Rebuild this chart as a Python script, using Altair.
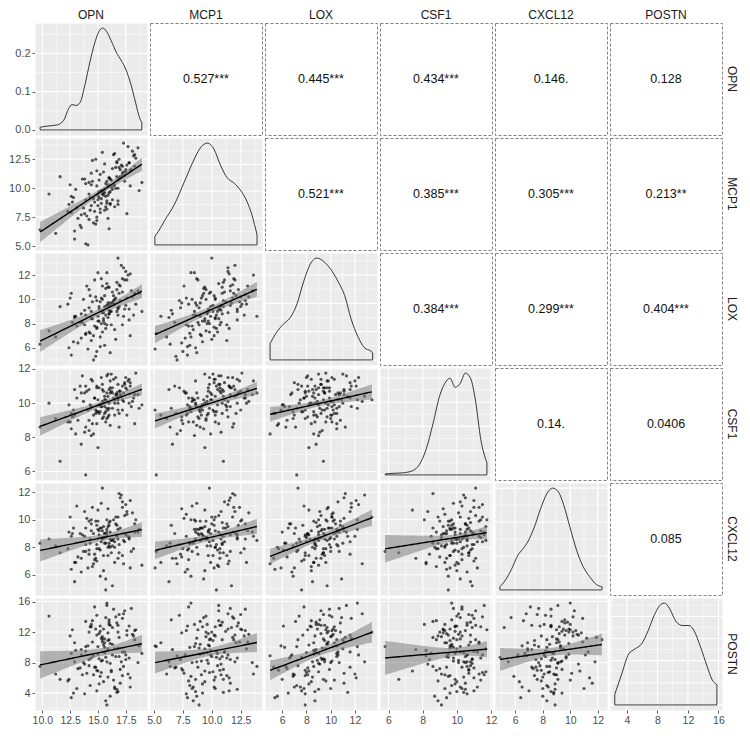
import numpy as np
import pandas as pd
import altair as alt

FONT = "Liberation Sans"
VARS = ["OPN", "MCP1", "LOX", "CSF1", "CXCL12", "POSTN"]

OPN = [9.8, 12.6, 13.9, 12.4, 14.6, 11.2, 13.1, 14.9, 12.8,
       12.7, 14.2, 10.6, 13.5, 15.2, 12.5, 13.8, 12.9, 14.4,
       14.3, 15.6, 13.2, 14.9, 16.1, 12.9, 14.6, 15.2, 13.8, 16.5, 14.1, 15.0, 13.5, 15.8, 14.4, 12.3, 15.4, 14.8, 16.8, 13.9,
       15.1, 13.7, 14.5, 16.3, 14.0, 15.5, 12.6, 14.7, 15.9, 13.4, 14.2, 16.7, 15.3, 13.0, 14.9, 15.7, 14.3, 11.6, 15.0, 16.0,
       15.9, 16.8, 14.9, 15.4, 17.6, 16.2, 15.1, 14.5, 16.6, 15.7, 17.2, 15.3, 16.0, 14.2, 15.5, 16.9, 15.8, 17.9, 15.0, 16.4, 13.6, 15.6, 16.1,
       15.2, 16.3, 17.4, 15.6, 14.7, 16.0, 15.4, 17.0, 14.4, 16.5, 15.8, 15.1, 18.3, 15.7, 16.2, 14.8, 15.5, 16.7, 15.9, 13.9, 17.3, 15.3, 16.1,
       17.5, 16.4, 18.2, 17.0, 15.9, 17.8, 16.8, 18.6, 17.2, 16.1, 17.6, 18.95, 16.6, 17.3, 15.6, 17.9, 16.9, 18.4,
       16.7, 17.4, 18.1, 15.8, 17.1, 16.3, 18.7, 17.7, 16.9, 16.0, 17.5, 18.3, 16.5, 17.2, 15.4, 17.8, 16.8, 18.0]
MCP1 = [6.4, 7.9, 5.2, 8.6, 7.0, 6.1, 8.3, 7.5, 9.2,
        8.8, 7.3, 9.5, 6.6, 8.2, 10.3, 7.8, 5.6, 8.5,
        8.1, 9.6, 7.4, 10.2, 8.7, 6.3, 9.1, 7.9, 10.8, 8.4, 5.1, 9.4, 7.7, 8.9, 11.3, 8.0, 9.8, 6.9, 8.6, 9.0,
        9.7, 8.3, 10.6, 9.0, 7.6, 11.4, 9.3, 8.0, 10.1, 6.8, 9.5, 12.2, 8.7, 9.9, 7.2, 10.4, 9.2, 11.0, 8.5, 9.6,
        10.3, 8.9, 11.5, 9.6, 7.8, 10.7, 9.2, 12.4, 10.0, 8.4, 11.1, 9.8, 6.5, 10.5, 9.4, 11.8, 8.7, 10.2, 9.0, 12.9, 10.8, 8.1, 9.7,
        11.2, 9.9, 10.6, 12.1, 8.8, 10.9, 9.5, 11.6, 10.3, 13.0, 8.2, 10.7, 11.9, 9.3, 10.1, 12.5, 9.7, 11.0, 7.4, 10.4, 11.4, 9.1, 10.8,
        11.6, 10.2, 12.8, 11.0, 9.4, 12.2, 10.7, 13.5, 11.3, 8.6, 12.0, 10.5, 11.8, 13.9, 9.9, 11.5, 10.9, 12.6,
        12.3, 11.1, 13.2, 10.6, 12.0, 11.7, 9.8, 13.6, 12.5, 10.9, 11.4, 12.9, 10.3, 11.9, 13.1, 12.2, 10.0, 11.6]
LOX = [6.3, 5.4, 7.2, 6.0, 5.0, 6.9, 7.8, 5.7, 6.5,
       8.1, 9.3, 7.4, 8.8, 6.9, 10.1, 7.9, 8.6, 9.0,
       7.2, 8.0, 6.4, 7.7, 5.6, 8.5, 7.0, 6.1, 9.1, 7.5, 5.9, 8.2, 6.8, 7.9, 6.6, 9.6, 7.3, 5.3, 8.7, 7.1,
       9.2, 10.0, 8.4, 9.7, 11.1, 8.9, 10.5, 7.8, 9.5, 8.1, 10.8, 9.0, 11.7, 8.6, 9.9, 7.6, 10.3, 9.4, 12.2, 8.8,
       8.5, 9.3, 7.6, 8.9, 10.1, 7.9, 8.2, 9.8, 6.7, 8.7, 10.6, 8.0, 9.1, 7.3, 8.4, 11.2, 9.5, 7.0, 8.6, 9.9, 8.1, 6.2, 9.0,
       9.8, 10.6, 9.2, 10.3, 11.6, 8.8, 10.0, 11.1, 8.4, 9.6, 12.2, 9.4, 10.5, 10.9, 9.0, 10.2, 8.2, 11.4, 9.7, 8.7, 12.6, 10.1, 9.5,
       9.5, 10.3, 8.7, 9.9, 11.0, 8.3, 9.2, 10.7, 7.9, 9.7, 11.6, 9.0, 10.1, 8.6, 9.4, 12.1, 10.5, 9.6,
       10.8, 11.6, 10.2, 11.3, 12.8, 9.7, 10.5, 12.0, 9.4, 11.0, 12.3, 10.4, 10.0, 11.7, 11.1, 9.2, 13.4, 10.7]
CSF1 = [8.6, 9.4, 5.8, 9.9, 8.2, 9.1, 10.3, 8.8, 9.6,
        9.2, 8.4, 10.0, 7.6, 9.5, 8.9, 10.6, 9.3, 8.1,
        9.7, 10.4, 9.0, 9.5, 8.7, 10.8, 9.3, 9.9, 8.3, 10.2, 9.6, 7.4, 10.6, 9.1, 9.8, 8.9, 11.1, 9.4, 10.0, 8.6,
        9.4, 10.1, 8.8, 9.7, 10.7, 9.2, 8.5, 10.3, 9.6, 11.0, 9.0, 10.5, 9.8, 8.2, 10.9, 9.5, 9.9, 6.6, 10.2, 9.3,
        10.4, 9.6, 11.0, 10.1, 9.3, 10.7, 9.9, 11.3, 10.5, 8.9, 10.2, 11.5, 9.7, 10.8, 10.0, 8.6, 10.6, 11.2, 9.5, 10.3, 11.6, 9.8, 10.9,
        9.9, 10.6, 11.1, 9.4, 10.3, 10.8, 9.1, 10.5, 11.4, 10.0, 9.7, 10.9, 8.8, 10.2, 11.7, 9.6, 10.7, 10.4, 9.2, 11.0, 10.1, 9.8, 10.6,
        10.9, 11.4, 10.3, 10.7, 11.7, 10.0, 11.1, 10.5, 9.6, 11.3, 10.8, 9.9, 11.5, 10.6, 10.2, 11.0, 9.4, 11.76,
        10.6, 11.2, 10.1, 11.6, 10.4, 10.9, 9.7, 11.3, 10.7, 10.0, 11.5, 10.5, 9.3, 11.0, 10.8, 11.4, 10.2, 9.8]
CXCL12 = [8.3, 6.4, 7.7, 9.1, 6.8, 8.1, 11.0, 7.9, 9.4,
          9.0, 7.5, 8.6, 7.2, 5.9, 10.2, 8.8, 6.9, 10.0,
          8.3, 8.7, 7.3, 9.6, 8.0, 5.5, 9.0, 7.8, 10.6, 8.4, 6.5, 10.7, 6.2, 8.9, 9.7, 7.9, 12.3, 7.2, 8.6, 9.4,
          9.2, 7.7, 6.6, 8.5, 10.1, 9.5, 8.8, 7.1, 7.4, 9.0, 9.9, 8.9, 11.2, 6.9, 8.2, 4.9, 8.6, 7.6, 9.3, 8.1,
          8.0, 9.3, 7.0, 8.6, 10.4, 7.6, 8.9, 10.9, 9.7, 8.3, 11.3, 8.4, 9.6, 7.8, 6.3, 11.9, 9.3, 6.5, 9.9, 8.6, 8.9, 8.3, 9.1,
          9.4, 8.1, 10.3, 9.0, 7.5, 9.8, 8.7, 11.6, 9.2, 6.9, 10.0, 7.9, 9.1, 5.7, 8.5, 9.9, 7.4, 8.8, 10.8, 8.2, 6.8, 9.4, 8.6,
          8.9, 10.0, 7.9, 9.4, 9.5, 8.6, 7.2, 9.1, 7.4, 9.9, 10.6, 6.7, 10.2, 8.5, 9.0, 11.4, 8.2, 10.0,
          9.6, 8.4, 10.5, 9.1, 11.8, 5.2, 9.3, 8.8, 7.6, 8.3, 11.1, 9.7, 8.0, 10.9, 9.2, 8.7, 10.2, 7.7]
POSTN = [7.5, 3.4, 10.1, 5.8, 8.9, 6.5, 4.6, 7.0, 4.0,
         12.3, 8.4, 14.1, 9.7, 6.2, 11.5, 3.9, 10.6, 13.0,
         5.0, 9.3, 7.2, 11.6, 3.6, 8.1, 6.4, 12.8, 7.8, 4.8, 10.2, 6.9, 9.0, 2.45, 8.6, 5.6, 11.0, 7.4, 4.2, 13.4,
         11.8, 8.0, 13.5, 10.4, 6.6, 12.4, 9.2, 15.3, 10.9, 7.3, 12.0, 4.5, 11.2, 9.6, 14.2, 8.7, 12.7, 5.8, 10.1, 13.0,
         6.1, 9.9, 4.3, 8.3, 12.2, 7.0, 5.2, 10.7, 8.8, 3.0, 9.4, 6.7, 13.6, 7.6, 5.5, 11.3, 8.1, 4.8, 9.1, 15.0, 6.4, 10.0, 7.9,
         12.1, 9.0, 14.8, 10.6, 7.4, 13.3, 11.4, 5.3, 12.7, 9.8, 15.8, 8.5, 11.0, 13.9, 6.8, 12.4, 10.3, 4.1, 11.9, 9.5, 14.4, 8.2, 12.9,
         8.4, 5.7, 11.5, 7.1, 9.8, 12.8, 12.9, 8.0, 6.3, 10.5, 11.6, 9.2, 14.0, 7.5, 11.1, 6.0, 8.8, 12.3,
         13.2, 9.4, 11.7, 15.5, 8.1, 12.6, 10.2, 6.5, 14.3, 11.0, 9.0, 12.2, 4.6, 13.8, 10.7, 8.6, 12.0, 15.1]

# correlation labels of the upper triangle (row by row)
CORR_LABELS = ["0.527***", "0.445***", "0.434***", "0.146.", "0.128",
               "0.521***", "0.385***", "0.305***", "0.213**",
               "0.384***", "0.299***", "0.404***",
               "0.14.", "0.0406",
               "0.085"]

# density curves
OPN_DX = [9.80, 10.44, 11.33, 11.92, 12.36, 12.65, 13.04, 13.40, 13.84, 14.28, 14.73, 15.17, 15.46,
          15.75, 16.19, 16.64, 17.08, 17.52, 17.96, 18.41, 18.76, 18.94]
OPN_DY = [0.007, 0.010, 0.013, 0.025, 0.055, 0.066, 0.064, 0.072, 0.119, 0.178, 0.229, 0.261, 0.266,
          0.258, 0.233, 0.203, 0.182, 0.157, 0.119, 0.068, 0.030, 0.019]
MCP1_DX = [5.08, 5.37, 5.93, 6.78, 7.63, 8.35, 9.06, 9.63, 10.19, 10.76, 11.33, 11.89, 12.46, 13.03, 13.48, 13.91]
MCP1_DY = [0.084, 0.13, 0.24, 0.40, 0.62, 0.81, 0.96, 1.0, 0.94, 0.78, 0.66, 0.61, 0.54, 0.43, 0.29, 0.10]
LOX_DX = [5.0, 5.47, 6.0, 6.69, 7.22, 7.77, 8.31, 8.85, 9.39, 9.94, 10.61, 11.16, 11.69, 12.24, 12.78, 13.32, 13.46]
LOX_DY = [0.16, 0.26, 0.34, 0.42, 0.55, 0.77, 0.94, 1.0, 0.97, 0.90, 0.77, 0.63, 0.40, 0.23, 0.12, 0.086, 0.07]
CSF1_DX = [5.81, 6.2, 6.8, 7.4, 7.8, 8.2, 8.6, 9.0, 9.3, 9.6, 9.9, 10.2, 10.5, 10.8, 11.1, 11.4, 11.76]
CSF1_DY = [0.01, 0.015, 0.02, 0.04, 0.10, 0.25, 0.50, 0.78, 0.90, 0.95, 0.86, 0.90, 1.0, 0.95, 0.72, 0.35, 0.12]
CXCL12_DX = [4.88, 5.24, 5.72, 6.19, 6.54, 6.90, 7.37, 7.85, 8.32, 8.73, 9.15, 9.51, 9.99, 10.46, 10.93,
             11.41, 11.88, 12.31]
CXCL12_DY = [0.03, 0.087, 0.20, 0.34, 0.40, 0.47, 0.61, 0.80, 0.95, 1.0, 0.96, 0.84, 0.61, 0.39, 0.23,
             0.13, 0.055, 0.03]
POSTN_DX = [2.41, 3.35, 4.22, 5.07, 5.93, 6.79, 7.64, 8.50, 8.93, 9.57, 10.43, 11.29, 12.14, 12.79, 13.65,
            14.51, 15.16, 15.80]
POSTN_DY = [0.105, 0.31, 0.50, 0.55, 0.60, 0.73, 0.89, 0.99, 1.0, 0.95, 0.82, 0.78, 0.78, 0.73, 0.57,
            0.38, 0.25, 0.20]
# peak heights of the unlabeled diagonal densities (OPN curve is absolute already)
DENS_PEAK = [1.0, 0.19, 0.18, 0.42, 0.30, 0.115]

MAJOR = {"OPN": [10, 12.5, 15, 17.5], "MCP1": [5, 7.5, 10, 12.5], "LOX": [6, 8, 10, 12],
         "CSF1": [6, 8, 10, 12], "CXCL12": [6, 8, 10, 12], "POSTN": [4, 8, 12, 16]}
FMT = {"OPN": ".1f", "MCP1": ".1f", "LOX": "d", "CSF1": "d", "CXCL12": "d", "POSTN": "d"}
DENS_MAJOR = {"OPN": [0, 0.1, 0.2], "MCP1": [0, 0.05, 0.1, 0.15], "LOX": [0, 0.05, 0.1, 0.15],
              "CSF1": [0, 0.1, 0.2, 0.3, 0.4], "CXCL12": [0, 0.1, 0.2, 0.3],
              "POSTN": [0, 0.025, 0.05, 0.075, 0.1]}

DATA = {"OPN": OPN, "MCP1": MCP1, "LOX": LOX, "CSF1": CSF1, "CXCL12": CXCL12, "POSTN": POSTN}
DENS = {"OPN": (OPN_DX, OPN_DY), "MCP1": (MCP1_DX, MCP1_DY), "LOX": (LOX_DX, LOX_DY),
        "CSF1": (CSF1_DX, CSF1_DY), "CXCL12": (CXCL12_DX, CXCL12_DY), "POSTN": (POSTN_DX, POSTN_DY)}
df = pd.DataFrame(DATA)

W, H, LH, RW, GAP = 112, 112, 11, 14, 3
GRAY_VIEW = alt.ViewBackground(fill="#EBEBEB", stroke="transparent")
NO_VIEW = alt.ViewBackground(fill="transparent", stroke="transparent")

DOM = {}
for v in VARS:
    lo, hi = min(DATA[v]), max(DATA[v])
    r = hi - lo
    DOM[v] = [lo - 0.05 * r, hi + 0.05 * r]


def sc(dom):
    return alt.Scale(domain=dom, nice=False, zero=False)


def split_breaks(major, lo, hi):
    step = major[1] - major[0]
    maj, mnr = [], []
    k = -2
    while True:
        val = round(major[0] + k * step / 2, 6)
        if val > hi:
            break
        if val >= lo:
            (maj if k % 2 == 0 else mnr).append(val)
        k += 1
    return maj, mnr


def label_axis(major, fmt, size):
    return alt.Axis(values=major, format=fmt, grid=False, domain=False, title=None,
                    ticks=True, tickColor="#333333", tickSize=3, tickWidth=0.8,
                    labelColor="#4D4D4D", labelFontSize=size, labelFont=FONT, labelPadding=2,
                    labelOverlap=False, labelFlush=False)


def grid_layers(xdom, xmajor, ydom, ymajor, axx, axy):
    xs, ys = sc(xdom), sc(ydom)
    xmaj, xmin = split_breaks(xmajor, xdom[0], xdom[1])
    ymaj, ymin = split_breaks(ymajor, ydom[0], ydom[1])
    out = []
    for vals, wdt in ((xmin, 0.55), (xmaj, 1.1)):
        out.append(alt.Chart(pd.DataFrame({"v": vals})).mark_rule(color="white", strokeWidth=wdt).encode(
            x=alt.X("v:Q", scale=xs, axis=axx)))
    for vals, wdt in ((ymin, 0.55), (ymaj, 1.1)):
        out.append(alt.Chart(pd.DataFrame({"v": vals})).mark_rule(color="white", strokeWidth=wdt).encode(
            y=alt.Y("v:Q", scale=ys, axis=axy)))
    return out


def fit_frame(xv, yv):
    x = np.array(DATA[xv], dtype=float)
    y = np.array(DATA[yv], dtype=float)
    n = len(x)
    b, a = np.polyfit(x, y, 1)
    resid = y - (a + b * x)
    s = np.sqrt((resid ** 2).sum() / (n - 2))
    xm = x.mean()
    sxx = ((x - xm) ** 2).sum()
    g = np.linspace(x.min(), x.max(), 80)
    f = a + b * g
    se = s * np.sqrt(1.0 / n + (g - xm) ** 2 / sxx)
    t = 1.977
    return pd.DataFrame({"x": g, "fit": f, "lo": f - t * se, "hi": f + t * se})


def scatter_panel(r, c):
    xv, yv = VARS[c], VARS[r]
    xs, ys = sc(DOM[xv]), sc(DOM[yv])
    axx = label_axis(MAJOR[xv], FMT[xv], 10.5) if r == 5 else None
    axy = label_axis(MAJOR[yv], FMT[yv], 11) if c == 0 else None
    layers = grid_layers(DOM[xv], MAJOR[xv], DOM[yv], MAJOR[yv], axx, axy)
    pts = alt.Chart(df).mark_circle(size=10, color="black", opacity=0.65, clip=True).encode(
        x=alt.X(f"{xv}:Q", scale=xs, axis=axx), y=alt.Y(f"{yv}:Q", scale=ys, axis=axy))
    fit = fit_frame(xv, yv)
    band = alt.Chart(fit).mark_area(color="#7F7F7F", opacity=0.55, clip=True).encode(
        x=alt.X("x:Q", scale=xs, axis=axx), y=alt.Y("lo:Q", scale=ys, axis=axy), y2="hi:Q")
    line = alt.Chart(fit).mark_line(color="black", strokeWidth=1.4, clip=True).encode(
        x=alt.X("x:Q", scale=xs, axis=axx), y=alt.Y("fit:Q", scale=ys, axis=axy))
    return alt.layer(*layers, pts, band, line).properties(width=W, height=H, view=GRAY_VIEW)


def diag_panel(k):
    v = VARS[k]
    dx, dy = DENS[v]
    dy = [d * DENS_PEAK[k] for d in dy]
    peak = max(dy)
    ydom = [-0.05 * peak, 1.05 * peak]
    xs, ys = sc(DOM[v]), sc(ydom)
    axx = label_axis(MAJOR[v], FMT[v], 10.5) if k == 5 else None
    axy = label_axis(DENS_MAJOR[v], ".1f", 11) if k == 0 else None
    layers = grid_layers(DOM[v], MAJOR[v], ydom, DENS_MAJOR[v], axx, axy)
    curve = alt.Chart(pd.DataFrame({"x": dx, "d": dy})).mark_line(
        color="#222222", strokeWidth=0.9, interpolate="monotone").encode(
        x=alt.X("x:Q", scale=xs, axis=axx), y=alt.Y("d:Q", scale=ys, axis=axy))
    edge = alt.Chart(pd.DataFrame({"x": [dx[0], dx[0], dx[-1], dx[-1]],
                                   "d": [dy[0], 0, 0, dy[-1]], "o": [0, 1, 2, 3]})).mark_line(
        color="#222222", strokeWidth=0.9).encode(
        x=alt.X("x:Q", scale=xs, axis=axx), y=alt.Y("d:Q", scale=ys, axis=axy), order="o:Q")
    return alt.layer(*layers, curve, edge).properties(width=W, height=H, view=GRAY_VIEW)


def upper_panel(label):
    return alt.Chart(pd.DataFrame({"t": [label]})).mark_text(
        font=FONT, fontSize=12.5, color="#111111").encode(
        text="t:N", x=alt.value(W / 2), y=alt.value(H / 2)).properties(
        width=W, height=H,
        view=alt.ViewBackground(fill="white", stroke="#808080", strokeDash=[3, 2], strokeWidth=1))


def label_cell(name, w, h, angle=0):
    return alt.Chart(pd.DataFrame({"t": [name]})).mark_text(
        font=FONT, fontSize=12, color="#1A1A1A", angle=angle, baseline="middle").encode(
        text="t:N", x=alt.value(w / 2), y=alt.value(h / 2)).properties(width=w, height=h, view=NO_VIEW)


cells = [label_cell(v, W, LH) for v in VARS] + [label_cell("", RW, LH)]
ci = 0
for r in range(6):
    for c in range(6):
        if r == c:
            cells.append(diag_panel(r))
        elif r > c:
            cells.append(scatter_panel(r, c))
        else:
            cells.append(upper_panel(CORR_LABELS[ci]))
            ci += 1
    cells.append(label_cell(VARS[r], RW, H, angle=90))

chart = alt.concat(*cells, columns=7, spacing=GAP, bounds="flush", align="each").properties(
    padding=0, background="white")

chart.save("out.html", embed_options={"renderer": "svg", "actions": False})
